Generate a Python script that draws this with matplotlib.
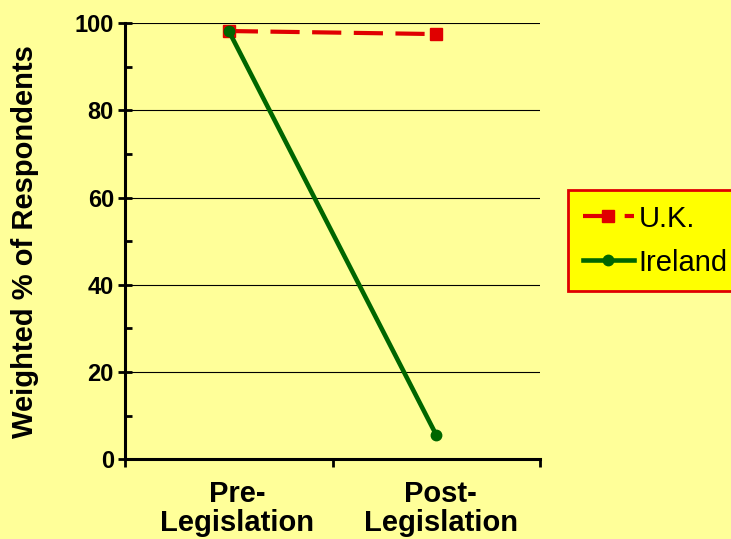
import matplotlib.pyplot as plt
from matplotlib.ticker import MultipleLocator

plt.rcParams['font.family'] = ['Liberation Sans', 'DejaVu Sans']

categories = ['Pre-\nLegislation', 'Post-\nLegislation']
uk = [98.2, 97.5]
ireland = [98.2, 5.5]

fig = plt.figure(figsize=(7.31, 5.39), dpi=100, facecolor='#FFFF99')
ax = fig.add_axes([0.171, 0.148, 0.568, 0.809])
ax.set_facecolor('#FFFF99')

x = [0.5, 1.5]
ax.plot(x, uk, color='#E00000', linestyle=(0, (7, 3)), linewidth=3,
        marker='s', markersize=9, label='U.K.', zorder=3)
ax.plot(x, ireland, color='#006600', linewidth=3.3,
        marker='o', markersize=7.5, label='Ireland', zorder=4)

ax.set_xlim(0, 2)
ax.set_ylim(0, 100)
ax.set_xticks([0, 1, 2])
ax.set_xticklabels([])
ax.set_xticks([0.54, 1.52], minor=True)
ax.set_xticklabels(categories, minor=True, fontsize=21, fontweight='bold',
                   linespacing=1.05)
ax.tick_params(axis='x', which='minor', length=0, pad=15)
ax.tick_params(axis='x', which='major', direction='out', length=6, width=2)

ax.yaxis.set_major_locator(MultipleLocator(20))
ax.yaxis.set_minor_locator(MultipleLocator(10))
ax.tick_params(axis='y', which='major', direction='inout', length=10, width=2,
               labelsize=17, pad=3)
ax.tick_params(axis='y', which='minor', direction='in', length=5, width=2)
for lbl in ax.get_yticklabels():
    lbl.set_fontweight('bold')

ax.yaxis.grid(True, color='black', linewidth=0.8)
ax.set_axisbelow(True)

for side in ['top', 'right']:
    ax.spines[side].set_visible(False)
for side in ['left', 'bottom']:
    ax.spines[side].set_linewidth(2.2)
    ax.spines[side].set_zorder(5)

ax.set_ylabel('Weighted % of Respondents', fontsize=21, fontweight='bold')
ax.yaxis.set_label_coords(-0.207, 0.5)

leg = ax.legend(loc='upper left', bbox_to_anchor=(568 / 731, 1 - 190 / 539),
                bbox_transform=fig.transFigure, fontsize=21,
                frameon=True, fancybox=False, handlelength=1.76,
                handletextpad=0.15, borderpad=0.5, labelspacing=0.55,
                borderaxespad=0)
leg.get_frame().set_facecolor('#FFFF00')
leg.get_frame().set_edgecolor('#E00000')
leg.get_frame().set_linewidth(2)
leg.get_frame().set_alpha(1)

fig.savefig('out.png', dpi=100, facecolor=fig.get_facecolor())
